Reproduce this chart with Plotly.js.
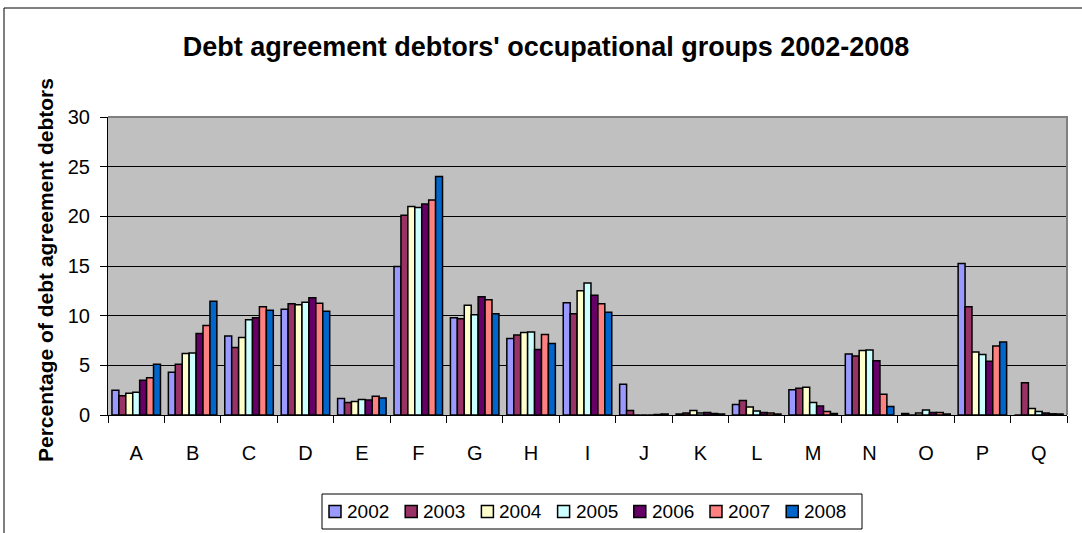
<!DOCTYPE html>
<html>
<head>
<meta charset="utf-8">
<script src="https://cdn.plot.ly/plotly-3.0.1.min.js"></script>
<style>
  html, body { margin: 0; padding: 0; background: #fff; }
  #chart { width: 1082px; height: 533px; }
</style>
</head>
<body>
<div id="chart"></div>
<script>
// Occupational groups A–Q
const categories = ['A','B','C','D','E','F','G','H','I','J','K','L','M','N','O','P','Q'];
const years = ['2002','2003','2004','2005','2006','2007','2008'];

// Share of debt agreement debtors (%) per occupational group, one array per year
const y2002 = [2.5, 4.3, 7.95, 10.65, 1.65, 14.95, 9.8, 7.7, 11.3, 3.1, 0.1, 1.05, 2.55, 6.15, 0.15, 15.25, 0];
const y2003 = [1.95, 5.1, 6.8, 11.2, 1.25, 20.1, 9.7, 8.05, 10.2, 0.45, 0.2, 1.45, 2.7, 5.95, 0, 10.9, 3.25];
const y2004 = [2.2, 6.2, 7.8, 11.1, 1.35, 21.0, 11.05, 8.3, 12.5, 0, 0.45, 0.8, 2.8, 6.5, 0.2, 6.35, 0.65];
const y2005 = [2.3, 6.25, 9.6, 11.35, 1.55, 20.9, 10.1, 8.35, 13.3, 0, 0.2, 0.4, 1.25, 6.55, 0.5, 6.1, 0.35];
const y2006 = [3.5, 8.2, 9.8, 11.8, 1.5, 21.25, 11.9, 6.6, 12.05, 0, 0.25, 0.25, 0.9, 5.45, 0.25, 5.4, 0.2];
const y2007 = [3.75, 9.0, 10.9, 11.25, 1.9, 21.65, 11.6, 8.1, 11.2, 0.05, 0.15, 0.2, 0.35, 2.1, 0.25, 6.95, 0.12];
const y2008 = [5.1, 11.45, 10.55, 10.45, 1.7, 24.0, 10.2, 7.2, 10.35, 0.1, 0.1, 0.1, 0.15, 0.85, 0.1, 7.35, 0.1];

const yTicks = [0, 5, 10, 15, 20, 25, 30];

const seriesValues = [y2002, y2003, y2004, y2005, y2006, y2007, y2008];
const seriesColors = ['#9999FF', '#993366', '#FFFFCC', '#CCFFFF', '#660066', '#FF8080', '#0066CC'];

const FONT = 'Arial, "Liberation Sans", sans-serif';

const traces = years.map((yr, i) => ({
  type: 'bar',
  name: yr,
  x: categories,
  y: seriesValues[i],
  marker: { color: seriesColors[i], line: { color: '#000000', width: 1.5 } },
  hoverinfo: 'x+y+name',
  showlegend: false
}));

// plot area in pixels: x 108..1067, y 117..415
const W = 1082, H = 533;
const L = 108, R = 1067, T = 117, B = 415;
const px = v => (v - L) / (R - L);
const py = v => (B - v) / (B - T);

// boxed legend row under the axis
const LEG = { left: 322, right: 862, top: 494, bottom: 529, first: 329, pitch: 76.2, sq: 12, textGap: 4 };
const legendShapes = [{
  type: 'rect', xref: 'paper', yref: 'paper',
  x0: px(LEG.left), x1: px(LEG.right), y0: py(LEG.bottom), y1: py(LEG.top),
  line: { color: '#000000', width: 1 }, fillcolor: '#ffffff'
}];
const legendTexts = [];
const midY = (LEG.top + LEG.bottom) / 2;
years.forEach((yr, i) => {
  const x0 = LEG.first + i * LEG.pitch;
  legendShapes.push({
    type: 'rect', xref: 'paper', yref: 'paper',
    x0: px(x0), x1: px(x0 + LEG.sq), y0: py(midY + LEG.sq / 2), y1: py(midY - LEG.sq / 2),
    line: { color: '#000000', width: 1.5 }, fillcolor: seriesColors[i]
  });
  legendTexts.push({
    text: yr, xref: 'paper', yref: 'paper',
    x: px(x0 + LEG.sq + LEG.textGap), y: py(midY),
    xanchor: 'left', yanchor: 'middle', showarrow: false,
    font: { family: FONT, size: 19, color: '#000000' }
  });
});

const layout = {
  width: W,
  height: H,
  margin: { l: L, r: W - R, t: T, b: H - B, pad: 0, autoexpand: false },
  paper_bgcolor: '#ffffff',
  plot_bgcolor: '#C0C0C0',
  font: { family: FONT, color: '#000000' },
  title: {
    text: "<b>Debt agreement debtors' occupational groups 2002-2008</b>",
    font: { family: FONT, size: 27, color: '#000000' },
    x: 546 / W, xref: 'container', xanchor: 'center',
    y: 1 - 47 / H, yref: 'container', yanchor: 'middle'
  },
  barmode: 'group',
  bargap: 0.14,
  bargroupgap: 0,
  showlegend: false,
  xaxis: {
    type: 'category',
    categoryorder: 'array',
    categoryarray: categories,
    tickson: 'boundaries',
    ticks: 'outside',
    ticklen: 7,
    tickwidth: 1,
    tickcolor: '#000000',
    ticklabelstandoff: 20,
    showline: true,
    linecolor: '#000000',
    linewidth: 1,
    showgrid: false,
    zeroline: false,
    tickfont: { family: FONT, size: 20, color: '#000000' },
    fixedrange: true
  },
  yaxis: {
    range: [0, 30],
    tickvals: yTicks,
    ticktext: yTicks.map(String),
    ticks: 'outside',
    ticklen: 7,
    tickwidth: 1,
    tickcolor: '#000000',
    ticklabelstandoff: 6,
    showline: true,
    linecolor: '#000000',
    linewidth: 1,
    showgrid: true,
    gridcolor: '#000000',
    gridwidth: 1,
    zeroline: false,
    tickfont: { family: FONT, size: 20, color: '#000000' },
    fixedrange: true
  },
  annotations: [{
    text: '<b>Percentage of debt agreement debtors</b>',
    xref: 'paper', yref: 'paper',
    x: px(45), y: py(270),
    xanchor: 'center', yanchor: 'middle',
    textangle: -90,
    showarrow: false,
    font: { family: FONT, size: 21, color: '#000000' }
  }].concat(legendTexts),
  shapes: [
    // outer chart frame
    {
      type: 'rect', xref: 'paper', yref: 'paper', layer: 'below',
      x0: px(4), x1: px(1090), y0: py(545), y1: py(8),
      line: { color: '#000000', width: 1 }, fillcolor: 'rgba(0,0,0,0)'
    },
    // plot area border (top and right edges)
    {
      type: 'path', xref: 'paper', yref: 'paper', layer: 'above',
      path: 'M 0 1 L 1 1 L 1 0',
      line: { color: '#808080', width: 2 }
    }
  ].concat(legendShapes)
};

Plotly.newPlot('chart', traces, layout, { displayModeBar: false, staticPlot: true });
</script>
</body>
</html>
